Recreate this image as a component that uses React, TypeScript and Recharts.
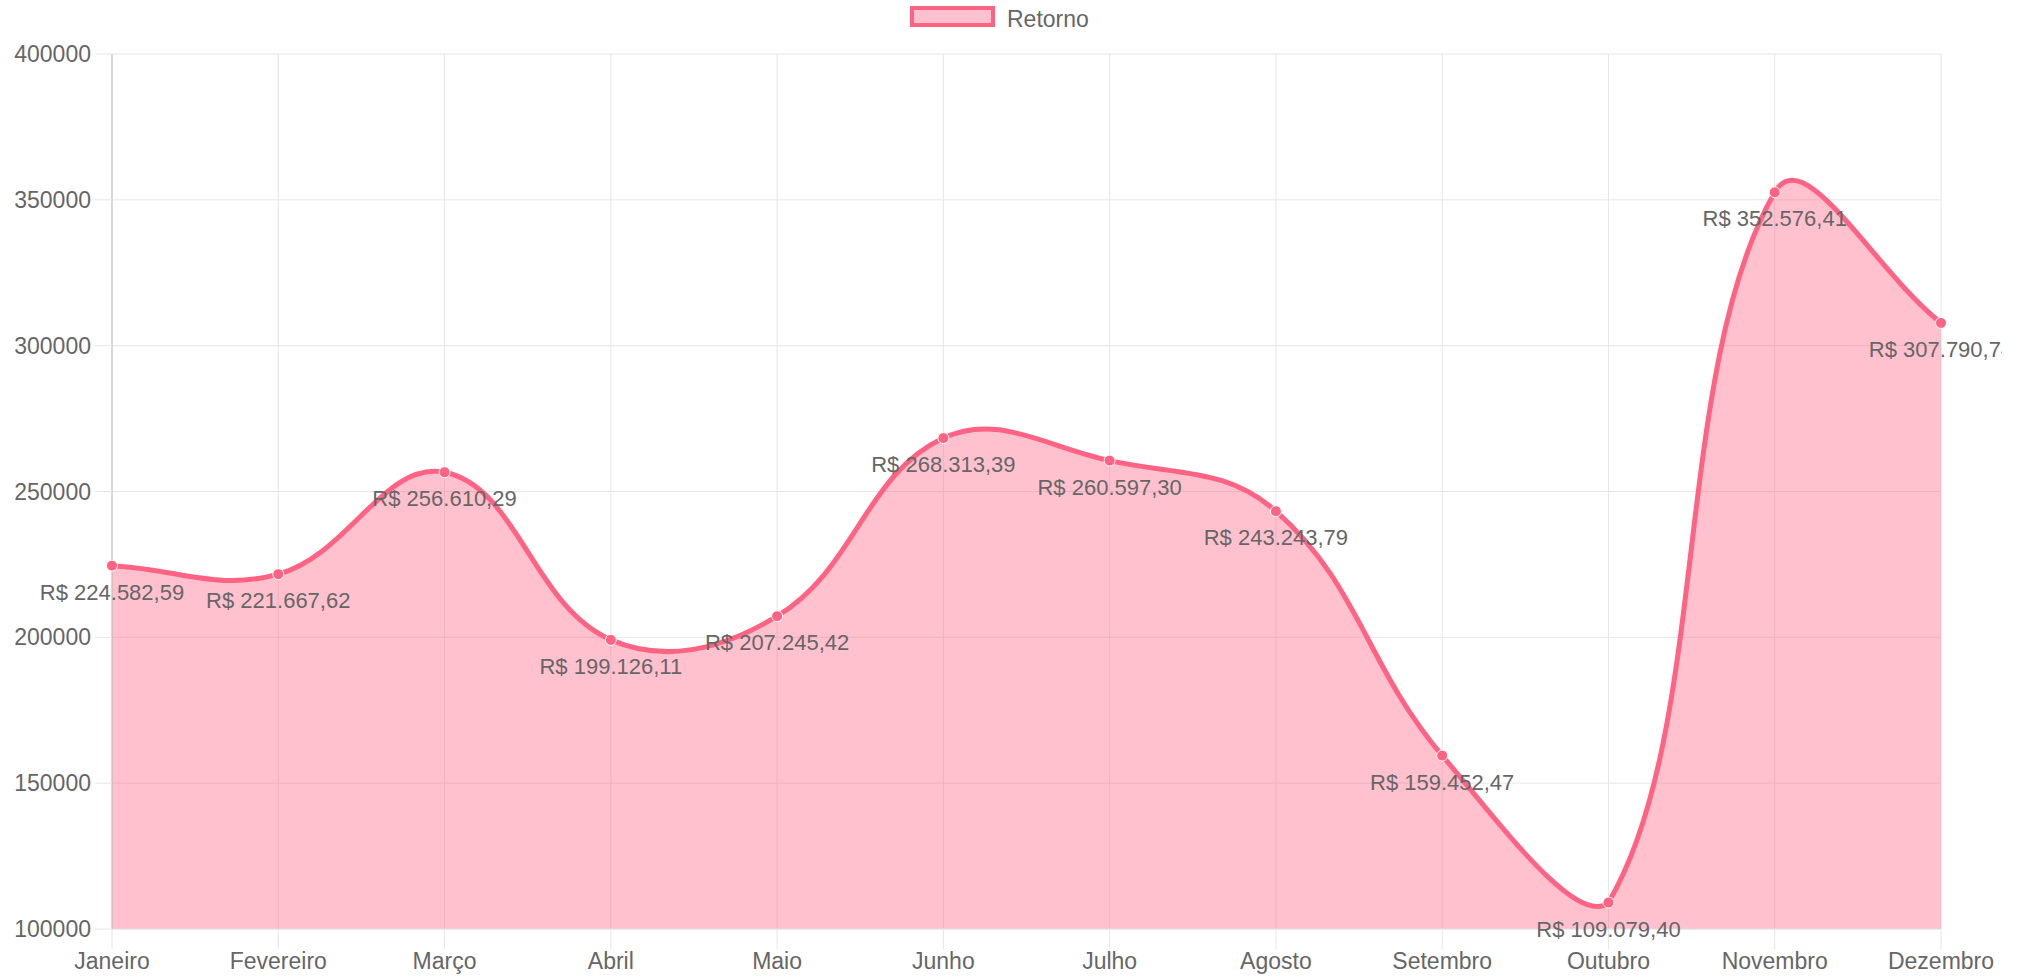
import React from 'react';
import { AreaChart, Area, XAxis, YAxis, CartesianGrid, LabelList } from 'recharts';

// ---- data ----
const months = [
  'Janeiro', 'Fevereiro', 'Março', 'Abril', 'Maio', 'Junho',
  'Julho', 'Agosto', 'Setembro', 'Outubro', 'Novembro', 'Dezembro',
];
const retorno = [
  224582.59, 221667.62, 256610.29, 199126.11, 207245.42, 268313.39,
  260597.3, 243243.79, 159452.47, 109079.4, 352576.41, 307790.74,
];
const yTicks = [100000, 150000, 200000, 250000, 300000, 350000, 400000];
const seriesName = 'Retorno';

const data = months.map((m, i) => ({ month: m, value: retorno[i] }));

// ---- layout ----
const W = 2002;
const H = 980;
const XAXIS_H = 51;
const YAXIS_W = 112;
const MARGIN = { top: 54, right: 61, bottom: 0, left: 0 };
const PLOT = {
  left: MARGIN.left + YAXIS_W,
  right: W - MARGIN.right,
  top: MARGIN.top,
  bottom: H - MARGIN.bottom - XAXIS_H,
};

const FONT = '"Liberation Sans", Arial, Helvetica, sans-serif';
const LINE = '#ff6384';
const GRID = '#e6e6e6';
const TEXT = '#666666';

// Chart.js-style cubic spline (tension 0.4, control points capped to plot area)
function chartJsCurve(tension: number, area: typeof PLOT) {
  const cap = (v: number, lo: number, hi: number) => Math.max(lo, Math.min(hi, v));
  return function (context: any) {
    let pts: number[][] = [];
    let line = NaN;
    return {
      areaStart() { line = 0; },
      areaEnd() { line = NaN; },
      lineStart() { pts = []; },
      lineEnd() {
        const n = pts.length;
        if (n > 0) {
          const c = pts.map((p, i) => {
            const prev = pts[i - 1] || p;
            const next = pts[i + 1] || p;
            const d01 = Math.hypot(p[0] - prev[0], p[1] - prev[1]);
            const d12 = Math.hypot(next[0] - p[0], next[1] - p[1]);
            let s01 = d01 / (d01 + d12);
            let s12 = d12 / (d01 + d12);
            if (!isFinite(s01)) s01 = 0;
            if (!isFinite(s12)) s12 = 0;
            const fa = tension * s01;
            const fb = tension * s12;
            return {
              px: cap(p[0] - fa * (next[0] - prev[0]), area.left, area.right),
              py: cap(p[1] - fa * (next[1] - prev[1]), area.top, area.bottom),
              nx: cap(p[0] + fb * (next[0] - prev[0]), area.left, area.right),
              ny: cap(p[1] + fb * (next[1] - prev[1]), area.top, area.bottom),
            };
          });
          if (line) context.lineTo(pts[0][0], pts[0][1]);
          else context.moveTo(pts[0][0], pts[0][1]);
          for (let i = 1; i < n; i++) {
            context.bezierCurveTo(c[i - 1].nx, c[i - 1].ny, c[i].px, c[i].py, pts[i][0], pts[i][1]);
          }
        }
        if (line || (line !== 0 && n === 1)) context.closePath();
        line = 1 - line;
      },
      point(x: number, y: number) { pts.push([+x, +y]); },
    };
  };
}

const curve = chartJsCurve(0.4, PLOT);

function formatBRL(v: number) {
  const [intPart, dec] = Math.abs(v).toFixed(2).split('.');
  const withDots = intPart.replace(/\B(?=(\d{3})+(?!\d))/g, '.');
  return `R$ ${v < 0 ? '-' : ''}${withDots},${dec}`;
}

const renderLabel = (props: any) => {
  const { x, y, value } = props;
  if (x == null || y == null) return null;
  return (
    <text
      x={x}
      y={y + 34}
      textAnchor="middle"
      fill={TEXT}
      fontSize={22}
      fontFamily={FONT}
    >
      {formatBRL(Number(value))}
    </text>
  );
};

export default function App() {
  return (
    <div
      style={{
        position: 'absolute',
        left: 0,
        top: 0,
        width: W,
        height: H,
        overflow: 'hidden',
        background: '#fff',
      }}
    >
      {/* legend */}
      <div
        style={{
          position: 'absolute',
          left: 910,
          top: 6,
          width: 85,
          height: 21,
          boxSizing: 'border-box',
          border: `4px solid ${LINE}`,
          background: 'rgba(255,99,132,0.4)',
        }}
      />
      <div
        style={{
          position: 'absolute',
          left: 1007,
          top: 5,
          fontFamily: FONT,
          fontSize: 23,
          lineHeight: '28px',
          color: TEXT,
          whiteSpace: 'nowrap',
        }}
      >
        {seriesName}
      </div>

      <div style={{ position: 'absolute', left: 0, top: 0 }}>
        <AreaChart width={W} height={H} data={data} margin={MARGIN}>
          <CartesianGrid stroke={GRID} strokeWidth={1} vertical horizontal />
          <XAxis
            dataKey="month"
            interval={0}
            height={XAXIS_H}
            tickSize={20}
            tickMargin={4}
            axisLine={{ stroke: GRID }}
            tickLine={{ stroke: GRID }}
            tick={{ fill: TEXT, fontSize: 23, fontFamily: FONT }}
          />
          <YAxis
            type="number"
            width={YAXIS_W}
            domain={[100000, 400000]}
            ticks={yTicks}
            interval={0}
            tickSize={17}
            tickMargin={4}
            axisLine={{ stroke: '#bdbdbd' }}
            tickLine={{ stroke: GRID }}
            tick={{ fill: TEXT, fontSize: 23, fontFamily: FONT }}
          />
          <Area
            name={seriesName}
            dataKey="value"
            type={curve as any}
            stroke={LINE}
            strokeWidth={5}
            fill={LINE}
            fillOpacity={0.4}
            dot={{ r: 5.5, fill: LINE, fillOpacity: 1, stroke: '#ffffff', strokeWidth: 1, strokeOpacity: 1 }}
            activeDot={false}
            isAnimationActive={false}
          >
            <LabelList dataKey="value" content={renderLabel} />
          </Area>
        </AreaChart>
      </div>
    </div>
  );
}
